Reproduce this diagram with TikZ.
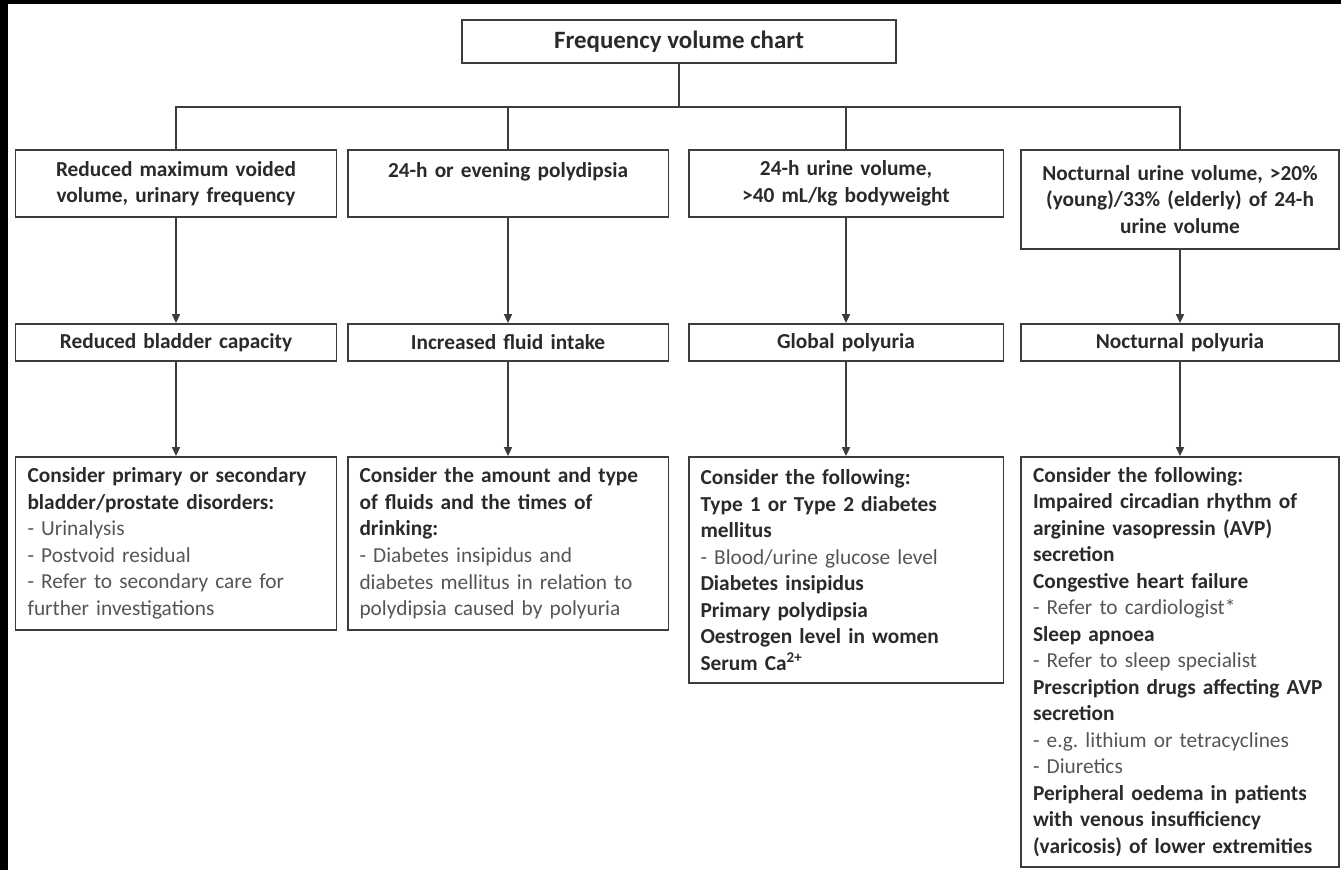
\documentclass[tikz,border=0pt]{standalone}
\usepackage{fontspec}
\setmainfont{Carlito}
\usetikzlibrary{arrows.meta,positioning}

\definecolor{boxgray}{HTML}{3C3C3C}
\definecolor{txtdark}{HTML}{2A2A2A}
\definecolor{txtlight}{HTML}{555555}
\newcommand{\fvfont}{\fontsize{12.15}{15.1}\selectfont\bfseries}
\newcommand{\fvitem}[1]{{\mdseries\color{txtlight}#1}}

\begin{document}
\begin{tikzpicture}[
x=0.02cm, y=-0.02cm,
box/.style={draw=boxgray, line width=1.1pt, inner xsep=0.24cm, inner ysep=0pt, text=txtdark, font=\fvfont},
finding/.style={box, anchor=north, align=center, minimum height=1.34cm},
result/.style={box, anchor=north, align=center, minimum height=0.74cm},
advice/.style={box, anchor=north, align=left},
link/.style={draw=boxgray, line width=1pt},
arrow/.style={link, -{Triangle[width=4.5pt,length=5pt]}}
]
\useasboundingbox (0,0) rectangle (1341,870);
\fill[black] (0,0) rectangle (1341,4);
\fill[black] (0,0) rectangle (8,870);

% -------- Chart --------
\node[box, minimum width=8.68cm, minimum height=0.86cm, font=\fontsize{14.2}{17}\selectfont\bfseries] (chart) at (679,41.5) {Frequency volume chart};
\coordinate (bus) at (679,107);

% -------- Findings --------
\node[finding, text width=5.94cm] (find1) at (176,149) {Reduced maximum voided\\volume, urinary frequency};
\node[finding, text width=5.94cm] (find2) at (508,149) {24-h or evening polydipsia\\~};
\node[finding, text width=5.82cm] (find3) at (846,149) {24-h urine volume,\\>40 mL/kg bodyweight};
\node[finding, text width=5.88cm, minimum height=1.98cm] (find4) at (1180,149) {Nocturnal urine volume, >20\%\\(young)/33\% (elderly) of 24-h\\urine volume};

\draw[link] (chart) -- (bus);
\draw[link] (find1.north) -- (find1.north |- bus) -- (find4.north |- bus) -- (find4.north);
\draw[link] (find2.north) -- (find2.north |- bus);
\draw[link] (find3.north) -- (find3.north |- bus);

% -------- Results --------
\node[result, text width=5.94cm] (res1) at (176,323) {Reduced bladder capacity};
\node[result, text width=5.94cm] (res2) at (508,323) {Increased fluid intake};
\node[result, text width=5.82cm] (res3) at (846,323) {Global polyuria};
\node[result, text width=5.88cm] (res4) at (1180,323) {Nocturnal polyuria};

\draw[arrow] (find1) -- (res1);
\draw[arrow] (find2) -- (res2);
\draw[arrow] (find3) -- (res3);
\draw[arrow] (find4) -- (res4);

% -------- Advice --------
\node[advice, text width=5.94cm, minimum height=3.46cm] (adv1) at (176,456) {Consider primary or secondary\\bladder/prostate disorders:\\\fvitem{- Urinalysis}\\\fvitem{- Postvoid residual}\\\fvitem{- Refer to secondary care for}\\\fvitem{further investigations}};
\node[advice, text width=5.94cm, minimum height=3.46cm] (adv2) at (508,456) {Consider the amount and type\\of fluids and the times of\\drinking:\\\fvitem{- Diabetes insipidus and}\\\fvitem{diabetes mellitus in relation to}\\\fvitem{polydipsia caused by polyuria}};
\node[advice, text width=5.82cm, minimum height=4.52cm] (adv3) at (846,456) {Consider the following:\\Type 1 or Type 2 diabetes\\mellitus\\\fvitem{- Blood/urine glucose level}\\Diabetes insipidus\\Primary polydipsia\\Oestrogen level in women\\Serum Ca\textsuperscript{2+}};
\node[advice, text width=5.88cm, minimum height=8.2cm] (adv4) at (1180,456) {Consider the following:\\Impaired circadian rhythm of\\arginine vasopressin (AVP)\\secretion\\Congestive heart failure\\\fvitem{- Refer to cardiologist*}\\Sleep apnoea\\\fvitem{- Refer to sleep specialist}\\Prescription drugs affecting AVP\\secretion\\\fvitem{- e.g.\ lithium or tetracyclines}\\\fvitem{- Diuretics}\\Peripheral oedema in patients\\with venous insufficiency\\(varicosis) of lower extremities};

\draw[arrow] (res1) -- (adv1);
\draw[arrow] (res2) -- (adv2);
\draw[arrow] (res3) -- (adv3);
\draw[arrow] (res4) -- (adv4);

\end{tikzpicture}
\end{document}
